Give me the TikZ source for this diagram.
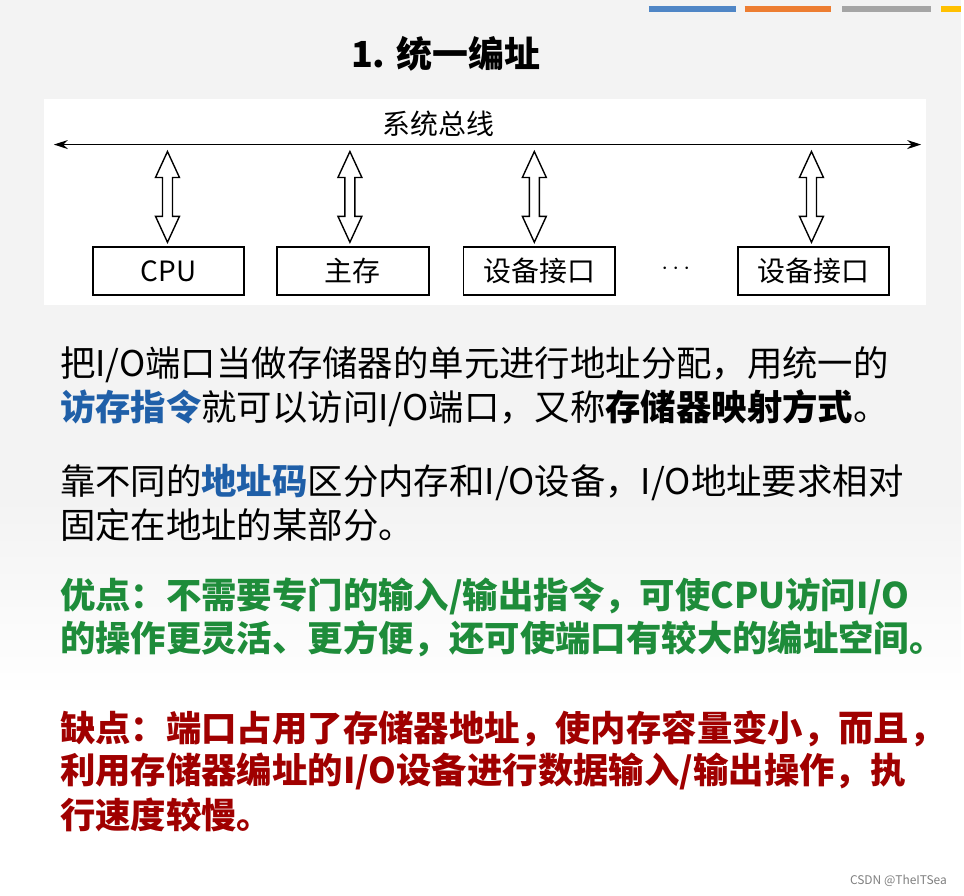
\documentclass[tikz,border=0pt]{standalone}
\usepackage{fontspec}
\setmainfont{Noto Sans CJK SC}
\usetikzlibrary{arrows.meta}
\definecolor{bg}{HTML}{F3F3F3}
\definecolor{kblue}{HTML}{1F5FA8}
\definecolor{kgreen}{HTML}{1E8C3A}
\definecolor{kred}{HTML}{A00000}
\begin{document}
\begin{tikzpicture}[x=1pt,y=-1pt,
  box/.style={draw,line width=1.8pt,minimum width=152pt,minimum height=48pt,inner sep=0pt,font=\fontsize{28}{28}\selectfont},
  dblarrow/.style={draw,line width=1.4pt,fill=white,line join=miter},
  txt/.style={anchor=west,inner sep=0pt,font=\fontsize{35.5}{35.5}\selectfont},
  bar/.style={line width=6pt}]
\fill[bg] (0,0) rectangle (964,898);
\fill[white] (0,700) rectangle (964,898);
\shade[top color=bg,bottom color=white] (0,500) rectangle (964,700);
\draw[bar,color={rgb,255:red,79;green,134;blue,198}] (651,9) -- (738,9);
\draw[bar,color={rgb,255:red,237;green,125;blue,49}] (747,9) -- (834,9);
\draw[bar,color={rgb,255:red,165;green,165;blue,165}] (845,9) -- (934,9);
\draw[bar,color={rgb,255:red,255;green,192;blue,0}] (944,9) -- (964,9);
\node[font=\bfseries\fontsize{36}{36}\selectfont] (title) at (447,54) {1. 统一编址};
\fill[white] (44,99) rectangle (929,306);
\coordinate (bl) at (54,145); \coordinate (br) at (924,145);
\draw[line width=1.5pt,{Stealth[length=14pt,width=9pt]}-{Stealth[length=14pt,width=9pt]}] (bl) -- (br);
\node[font=\fontsize{28}{28}\selectfont] (bus) at (440,124) {系统总线};
\node[box] (cpu) at (169,272) {CPU};
\node[box] (mem) at (354,272) {主存};
\node[box] (dev1) at (541,272) {设备接口};
\node[box] (dev2) at (816,272) {设备接口};
\node[font=\fontsize{30}{30}\selectfont] (dots) at (678,270) {$\cdots$};
\foreach \x in {168,351,536,814}{
  \draw[dblarrow] (\x,152) -- (\x+12,178) -- (\x+5,178) -- (\x+5,217) -- (\x+12,217) -- (\x,243)
     -- (\x-12,217) -- (\x-5,217) -- (\x-5,178) -- (\x-12,178) -- cycle;
}
\node[txt] (l1) at (60,366) {把I/O端口当做存储器的单元进行地址分配，用统一的};
\node[txt] (l2) at (60,410) {\textcolor{kblue}{\bfseries 访存指令}就可以访问I/O端口，又称\textbf{存储器映射方式}。};
\node[txt] (l3) at (60,484) {靠不同的\textcolor{kblue}{\bfseries 地址码}区分内存和I/O设备，I/O地址要求相对};
\node[txt] (l4) at (60,527) {固定在地址的某部分。};
\node[txt,text=kgreen,font=\bfseries\fontsize{35.5}{35.5}\selectfont] (g1) at (60,598) {优点：不需要专门的输入/输出指令，可使CPU访问I/O};
\node[txt,text=kgreen,font=\bfseries\fontsize{35.5}{35.5}\selectfont] (g2) at (60,641) {的操作更灵活、更方便，还可使端口有较大的编址空间。};
\node[txt,text=kred,font=\bfseries\fontsize{35.5}{35.5}\selectfont] (r1) at (60,731) {缺点：端口占用了存储器地址，使内存容量变小，而且，};
\node[txt,text=kred,font=\bfseries\fontsize{35.5}{35.5}\selectfont] (r2) at (60,774) {利用存储器编址的I/O设备进行数据输入/输出操作，执};
\node[txt,text=kred,font=\bfseries\fontsize{35.5}{35.5}\selectfont] (r3) at (60,817) {行速度较慢。};
\node[anchor=east,inner sep=0pt,text=gray,font=\fontsize{12}{12}\selectfont] (wm) at (950,884) {CSDN @TheITSea};
\end{tikzpicture}
\end{document}
